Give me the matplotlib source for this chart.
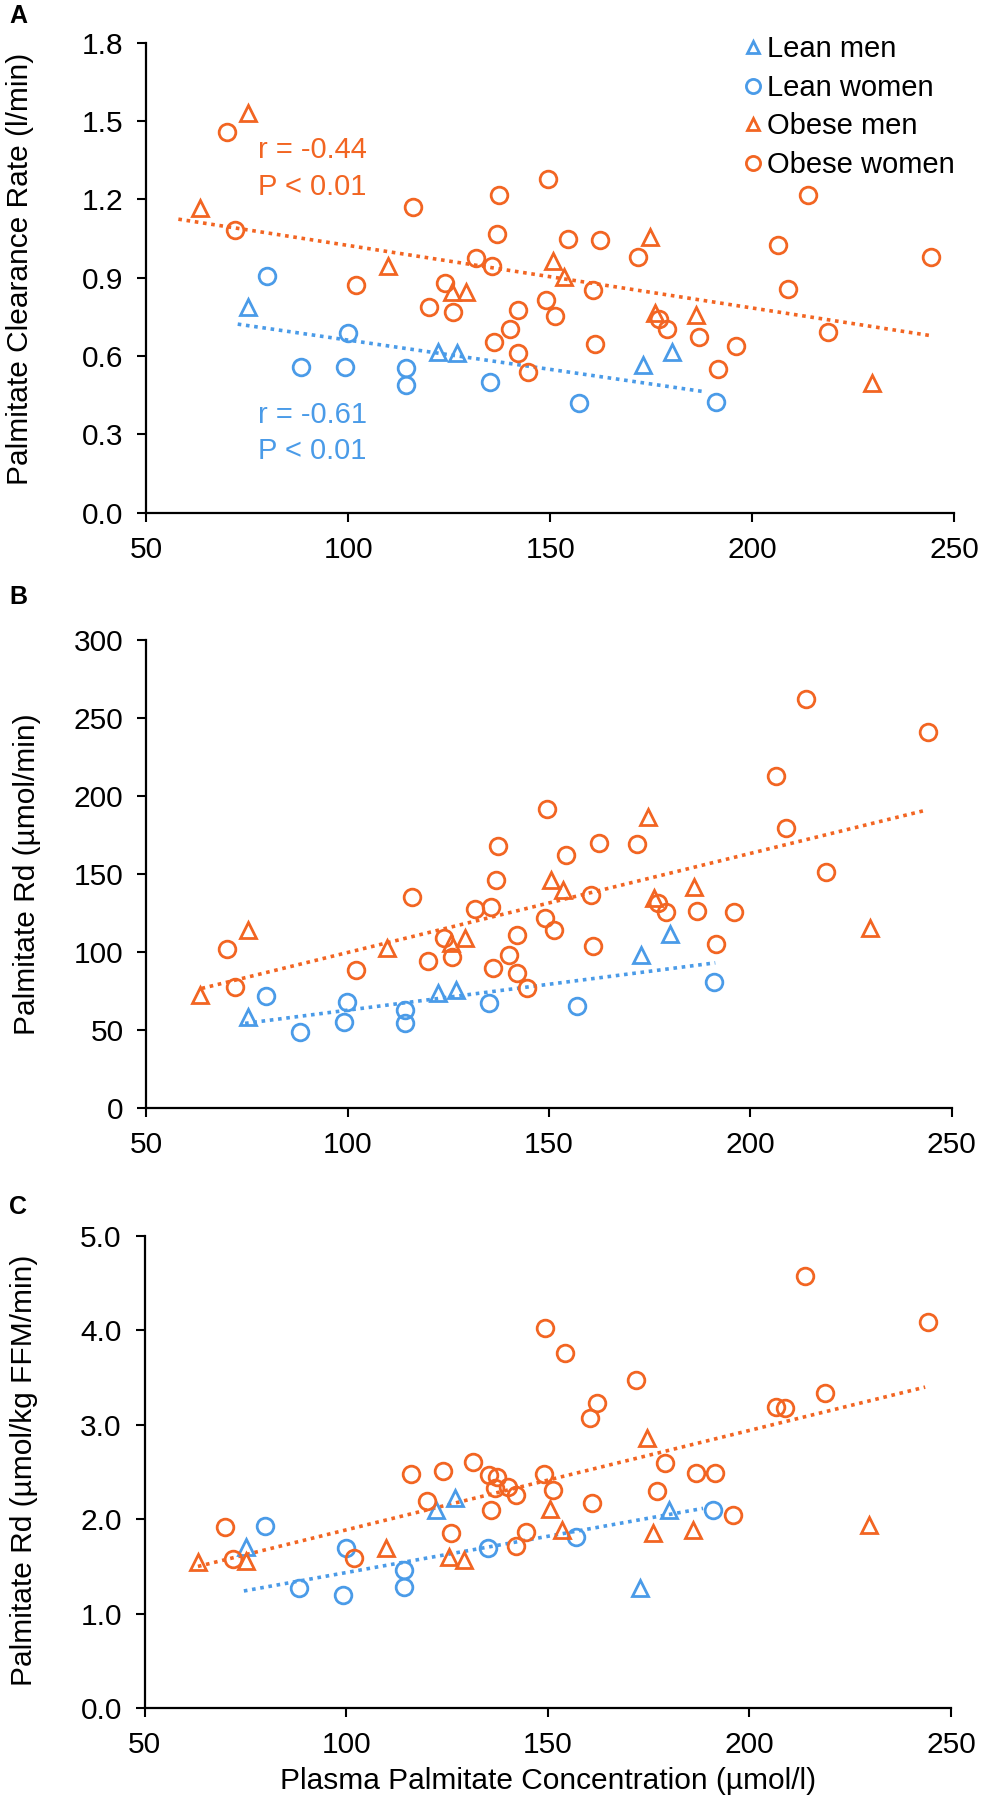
import matplotlib.pyplot as plt
import numpy as np

plt.rcParams['font.family'] = ['Liberation Sans', 'DejaVu Sans']

orange = '#F26522'
blue = '#4A9BE8'

# plasma palmitate concentration (umol/l), one list per group
lm_conc = [75.2, 122.3, 127.0, 172.9, 180.1]
lw_conc = [79.8, 88.2, 99.1, 99.9, 114.2, 114.2, 135.2, 157.0, 191.0]
om_conc = [63.2, 75.1, 109.8, 125.6, 129.2, 150.6, 153.5, 174.7, 176.0, 186.0, 229.7]
ow_conc = [70.0, 72.0, 102.0, 116.0, 120.0, 124.0, 126.0, 131.5, 135.5, 136.0, 136.8,
           137.3, 140.0, 142.0, 142.0, 144.6, 149.0, 149.4, 151.2, 154.3, 160.5, 161.0,
           162.3, 171.8, 177.0, 179.0, 186.8, 191.5, 196.0, 206.5, 208.8, 213.8, 218.8, 244.2]

# A - palmitate clearance rate (l/min)
lm_clear = [0.789, 0.617, 0.613, 0.566, 0.617]
lw_clear = [0.908, 0.556, 0.556, 0.687, 0.553, 0.489, 0.502, 0.419, 0.423]
om_clear = [1.167, 1.530, 0.943, 0.845, 0.845, 0.962, 0.904, 1.057, 0.764, 0.757, 0.498]
ow_clear = [1.457, 1.083, 0.870, 1.170, 0.789, 0.878, 0.770, 0.975, 0.946, 0.655, 1.068,
            1.217, 0.704, 0.777, 0.613, 0.540, 0.815, 1.278, 0.755, 1.047, 0.851, 0.646,
            1.045, 0.981, 0.741, 0.703, 0.674, 0.549, 0.640, 1.026, 0.855, 1.217, 0.691, 0.978]

# B - palmitate Rd (umol/min)
lm_rd = [58.5, 74.0, 76.0, 98.0, 111.5]
lw_rd = [71.8, 48.5, 54.9, 68.1, 62.8, 54.3, 67.5, 65.6, 80.6]
om_rd = [72.4, 114.1, 102.8, 106.0, 108.8, 146.2, 139.7, 186.3, 134.4, 141.5, 115.2]
ow_rd = [101.9, 77.4, 88.5, 135.4, 94.4, 108.8, 96.6, 127.6, 129.0, 89.5, 146.2,
         168.1, 98.0, 110.9, 86.7, 76.7, 121.6, 191.9, 114.1, 162.2, 136.5, 103.8,
         169.7, 169.2, 131.2, 125.4, 126.5, 105.1, 125.4, 212.8, 179.3, 262.2, 151.2, 240.8]

# C - palmitate Rd (umol/kg FFM/min)
lm_rdffm = [1.71, 2.10, 2.23, 1.27, 2.10]
lw_rdffm = [1.93, 1.27, 1.20, 1.70, 1.46, 1.285, 1.69, 1.81, 2.10]
om_rdffm = [1.55, 1.557, 1.69, 1.60, 1.57, 2.11, 1.886, 2.86, 1.85, 1.886, 1.94]
ow_rdffm = [1.92, 1.575, 1.592, 2.48, 2.19, 2.51, 1.857, 2.61, 2.47, 2.10, 2.33,
            2.45, 2.34, 2.26, 1.716, 1.868, 2.48, 4.03, 2.31, 3.76, 3.07, 2.17,
            3.23, 3.47, 2.30, 2.60, 2.49, 2.49, 2.04, 3.19, 3.18, 4.58, 3.34, 4.09]

# trend lines (ends)
trend_a_obese = ([57.9, 244.2], [1.124, 0.678])
trend_a_lean = ([72.6, 187.8], [0.722, 0.464])
trend_b_obese = ([63.7, 243.7], [76.7, 191.0])
trend_b_lean = ([74.5, 191.3], [54.3, 93.1])
trend_c_obese = ([63.2, 243.6], [1.50, 3.40])
trend_c_lean = ([74.6, 188.5], [1.24, 2.115])

x_ticks = [50, 100, 150, 200, 250]


# PLOTTINGS
fig = plt.figure(figsize=(9.81, 18), dpi=100)
ax_a = fig.add_axes([0.1493, 0.7152, 0.8232, 0.2611])
ax_b = fig.add_axes([0.1493, 0.3844, 0.8207, 0.2600])
ax_c = fig.add_axes([0.1475, 0.0511, 0.8219, 0.2622])

panels = [
    (ax_a, lm_clear, lw_clear, om_clear, ow_clear, trend_a_obese, trend_a_lean,
     np.arange(0, 1.81, 0.3), '%.1f'),
    (ax_b, lm_rd, lw_rd, om_rd, ow_rd, trend_b_obese, trend_b_lean,
     np.arange(0, 301, 50), '%d'),
    (ax_c, lm_rdffm, lw_rdffm, om_rdffm, ow_rdffm, trend_c_obese, trend_c_lean,
     np.arange(0, 5.01, 1.0), '%.1f'),
]

dot = dict(lw=2.6, linestyle=(0, (1, 1.3)))
mk = dict(linestyle='none', mfc='none', mew=2)

for ax, lm, lw, om, ow, tr_o, tr_l, yt, fmt in panels:
    ax.plot(tr_o[0], tr_o[1], color=orange, **dot)
    ax.plot(tr_l[0], tr_l[1], color=blue, **dot)
    ax.plot(lm_conc, lm, marker='^', ms=11, color=blue, label='Lean men', **mk)
    ax.plot(lw_conc, lw, marker='o', ms=12, color=blue, label='Lean women', **mk)
    ax.plot(om_conc, om, marker='^', ms=11, color=orange, label='Obese men', **mk)
    ax.plot(ow_conc, ow, marker='o', ms=12, color=orange, label='Obese women', **mk)

    ax.set_xlim(50, 250)
    ax.set_ylim(yt[0], yt[-1])
    ax.set_xticks(x_ticks)
    ax.set_yticks(yt)
    ax.set_yticklabels([fmt % v for v in yt])
    ax.spines['top'].set_visible(False)
    ax.spines['right'].set_visible(False)
    for s in ['left', 'bottom']:
        ax.spines[s].set_linewidth(1.6)
    ax.tick_params(direction='out', length=6.5, width=1.5, labelsize=21.5, pad=10)

ax_a.text(77.6, 1.39, 'r = -0.44', color=orange, fontsize=21, va='center')
ax_a.text(77.6, 1.247, 'P < 0.01', color=orange, fontsize=21, va='center')
ax_a.text(77.6, 0.374, 'r = -0.61', color=blue, fontsize=21, va='center')
ax_a.text(77.6, 0.236, 'P < 0.01', color=blue, fontsize=21, va='center')

ax_a.legend(loc='upper left', bbox_to_anchor=(0.742, 0.9885), bbox_transform=fig.transFigure,
            frameon=False, fontsize=21, handlelength=0.7, handletextpad=0.15,
            labelspacing=0.36, borderpad=0, markerscale=0.85)

# axis titles
fig.text(0.020, 1 - 268.5 / 1800, 'Palmitate Clearance Rate (l/min)', rotation=90,
         fontsize=21.5, ha='center', va='center')
fig.text(0.028, 1 - 874 / 1800, 'Palmitate Rd (\u00b5mol/min)', rotation=90,
         fontsize=21.5, ha='center', va='center')
fig.text(0.024, 1 - 1470.5 / 1800, 'Palmitate Rd (\u00b5mol/kg FFM/min)', rotation=90,
         fontsize=21.5, ha='center', va='center')
fig.text(548 / 981, 1 - 1781 / 1800, 'Plasma Palmitate Concentration (\u00b5mol/l)',
         fontsize=21.5, ha='center', va='center')

# panel letters
for lab, ypix in [('A', 16), ('B', 597), ('C', 1207)]:
    fig.text(18 / 981, 1 - ypix / 1800, lab, fontsize=18, fontweight='bold',
             ha='center', va='center')

fig.savefig('out.png', dpi=100)
